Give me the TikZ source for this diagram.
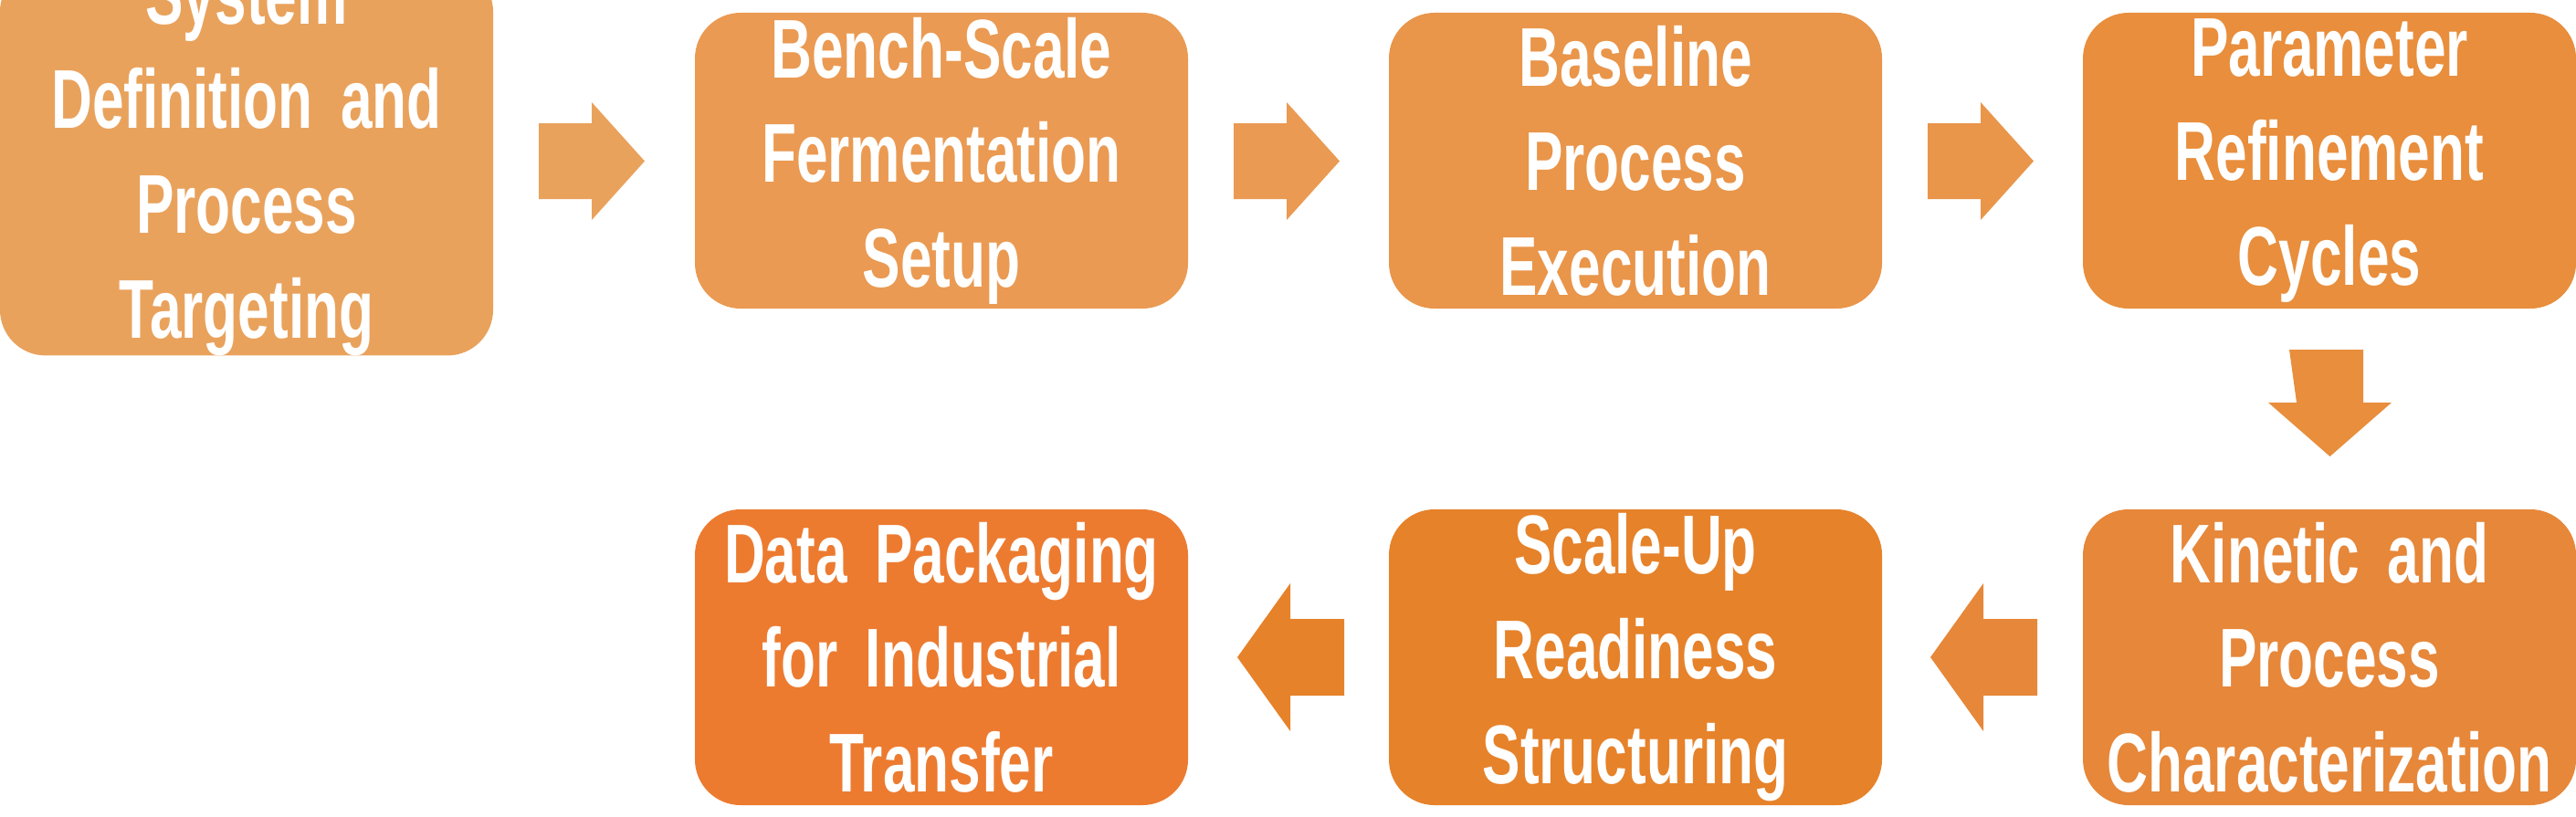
\documentclass[tikz,border=0pt]{standalone}
\usepackage{fontspec}
\setmainfont[FakeStretch=0.68]{Liberation Sans}
\usetikzlibrary{positioning}
\definecolor{cA}{HTML}{E9A25C}
\definecolor{cB}{HTML}{EA9A52}
\definecolor{cC}{HTML}{E9954A}
\definecolor{cD}{HTML}{E88E3C}
\definecolor{cE}{HTML}{E6873A}
\definecolor{cF}{HTML}{E6822A}
\definecolor{cG}{HTML}{EC7B30}
\tikzset{
	stage/.style = {draw=none, rounded corners=0.5cm, minimum width=5.4cm, minimum height=3.24cm,
		text width=5.2cm, align=center, text=white, inner sep=0pt,
		font=\fontsize{26}{32.6}\selectfont\bfseries}
}
\begin{document}
\begin{tikzpicture}
	\useasboundingbox (0,0) rectangle (28.21,8.94);
	\node[stage, fill=cA] (s1) at (2.70,7.18) {System\\Definition and\\Process\\Targeting};
	\node[stage, fill=cB] (s2) at (10.31,7.18) {Bench-Scale\\Fermentation\\Setup};
	\node[stage, fill=cC] (s3) at (17.91,7.18) {Baseline\\Process\\Execution};
	\node[stage, fill=cD] (s4) at (25.51,7.18) {Parameter\\Refinement\\Cycles};
	\node[stage, fill=cE] (s5) at (25.51,1.74) {Kinetic and\\Process\\Characterization};
	\node[stage, fill=cF] (s6) at (17.91,1.74) {Scale-Up\\Readiness\\Structuring};
	\node[stage, fill=cG] (s7) at (10.31,1.74) {Data Packaging\\for Industrial\\Transfer};
	% right arrows
	\foreach \x/\c in {5.90/cA, 13.51/cB, 21.11/cC}
		\fill[\c] (\x,7.59) -- ++(0.58,0) -- ++(0,0.23) -- ++(0.58,-0.645) -- ++(-0.58,-0.645) -- ++(0,0.23) -- ++(-0.58,0) -- cycle;
	% down arrow
	\fill[cD] (25.07,5.11) -- ++(0.81,0) -- ++(0,-0.58) -- ++(0.31,0) -- ++(-0.675,-0.59) -- ++(-0.675,0.59) -- ++(0.31,0) -- cycle;
	% left arrows
	\foreach \x/\c in {22.31/cE, 14.72/cF}
		\fill[\c] (\x,2.16) -- ++(-0.59,0) -- ++(0,0.39) -- ++(-0.58,-0.81) -- ++(0.58,-0.81) -- ++(0,0.39) -- ++(0.59,0) -- cycle;
\end{tikzpicture}
\end{document}
